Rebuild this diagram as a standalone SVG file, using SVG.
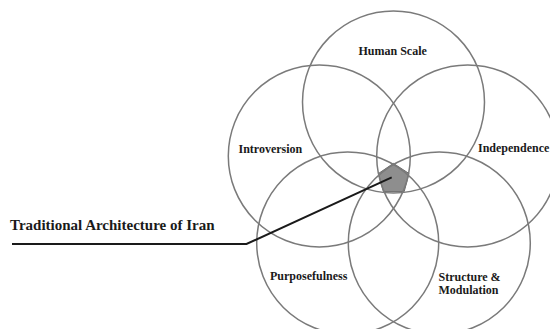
<svg xmlns="http://www.w3.org/2000/svg" width="550" height="329" viewBox="0 0 550 329">
<style>
.c{fill:none;stroke:#7a7a7a;stroke-width:1.5}
.t{font-family:"Liberation Serif","Times New Roman",serif;font-weight:bold;font-size:12px;fill:#1a1a1a}
</style>
<rect width="550" height="329" fill="#fff"/>
<g id="core"><polygon points="393.4,163.4 378.5,173.5 383.4,191.6 404.2,191.6 409,173.5" fill="#8e8e8e" stroke="#6a6a6a" stroke-width="1"/></g>
<g id="human-scale"><circle class="c" cx="393.5" cy="102" r="91"/><text class="t" x="358.5" y="55">Human Scale</text></g>
<g id="introversion"><circle class="c" cx="319.3" cy="155.9" r="91"/><text class="t" x="238.5" y="153">Introversion</text></g>
<g id="independence"><circle class="c" cx="467.7" cy="155.9" r="91"/><text class="t" x="478" y="152">Independence</text></g>
<g id="purposefulness"><circle class="c" cx="347.7" cy="243.1" r="91"/><text class="t" x="270" y="280">Purposefulness</text></g>
<g id="structure"><circle class="c" cx="439.3" cy="243.1" r="91"/><text class="t" x="438.5" y="281">Structure &amp;</text><text class="t" x="438.5" y="293.5">Modulation</text></g>
<g id="connectors"><polyline points="391.7,177.3 246.5,244 12,244" fill="none" stroke="#1a1a1a" stroke-width="2"/></g>
<g id="label"><text class="t" x="10" y="230" style="font-size:15px">Traditional Architecture of Iran</text></g>
</svg>
